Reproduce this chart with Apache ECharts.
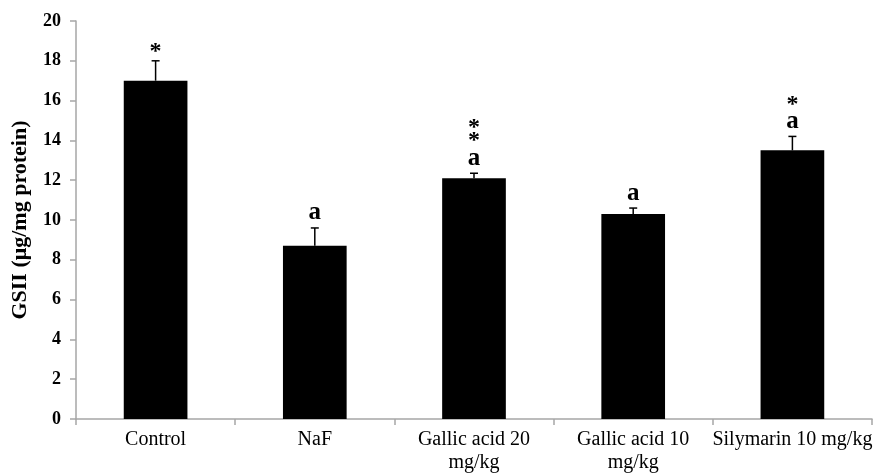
<!DOCTYPE html>
<html>
<head>
<meta charset="utf-8">
<script src="https://cdn.jsdelivr.net/npm/echarts@6/dist/echarts.min.js"></script>
<style>
html,body{margin:0;padding:0;background:#fff;}
#chart{width:877px;height:474px;}
</style>
</head>
<body>
<div id="chart"></div>
<script>
// ---- data ----
const categories = ['Control', 'NaF', 'Gallic acid 20\nmg/kg', 'Gallic acid 10\nmg/kg', 'Silymarin 10 mg/kg'];
const means = [17.0, 8.7, 12.1, 10.3, 13.5];
const errors = [1.0, 0.9, 0.25, 0.3, 0.7];
const annotations = [['*'], ['a'], ['*', '*', 'a'], ['a'], ['*', 'a']];
const yTicks = { min: 0, max: 20, interval: 2 };
const yTitle = 'GSII (μg/mg protein)';

const chart = echarts.init(document.getElementById('chart'), null, { renderer: 'canvas' });
const serif = '"Liberation Serif", "Times New Roman", serif';
const axisGray = '#a6a6a6';

const errData = means.map((m, i) => [i, m, errors[i]]);

chart.setOption({
  animation: false,
  backgroundColor: '#fff',
  grid: { left: 76, right: 5, top: 21, bottom: 55, containLabel: false, outerBoundsMode: 'none' },
  xAxis: {
    type: 'category',
    data: categories,
    axisLine: { lineStyle: { color: axisGray, width: 1.5 } },
    axisTick: { show: true, alignWithLabel: false, length: 6, lineStyle: { color: axisGray, width: 1.5 } },
    axisLabel: { color: '#000', fontFamily: serif, fontSize: 20, margin: 9, lineHeight: 23, interval: 0 },
    splitLine: { show: false }
  },
  yAxis: {
    type: 'value',
    min: yTicks.min, max: yTicks.max, interval: yTicks.interval,
    name: yTitle,
    nameLocation: 'middle',
    nameGap: 45,
    nameTextStyle: { color: '#000', fontFamily: serif, fontSize: 22, fontWeight: 'bold' },
    axisLine: { show: true, lineStyle: { color: axisGray, width: 1.5 } },
    axisTick: { show: true, length: 6, lineStyle: { color: axisGray, width: 1.5 } },
    axisLabel: { color: '#000', fontFamily: serif, fontSize: 18, fontWeight: 'bold', margin: 15 },
    splitLine: { show: false }
  },
  series: [
    {
      type: 'bar',
      data: means,
      barWidth: '40%',
      itemStyle: { color: '#000' },
      z: 2
    },
    {
      type: 'custom',
      data: errData,
      z: 3,
      renderItem: function (params, api) {
        const i = api.value(0);
        const m = api.value(1);
        const e = api.value(2);
        const base = api.coord([i, m]);
        const top = api.coord([i, m + e]);
        const x = base[0];
        const children = [
          { type: 'line', shape: { x1: x, y1: base[1], x2: x, y2: top[1] }, style: { stroke: '#000', lineWidth: 1.5 } },
          { type: 'line', shape: { x1: x - 4, y1: top[1], x2: x + 4, y2: top[1] }, style: { stroke: '#000', lineWidth: 1.5 } }
        ];
        const lines = annotations[params.dataIndex];
        let y = top[1] - 15;
        for (let k = lines.length - 1; k >= 0; k--) {
          const t = lines[k];
          const isStar = t === '*';
          children.push({
            type: 'text',
            style: {
              text: t, x: x, y: isStar ? y + 6 : y,
              align: 'center', verticalAlign: 'middle',
              font: 'bold ' + (isStar ? 24 : 25) + 'px ' + serif,
              fill: '#000'
            }
          });
          if (k > 0) {
            const above = lines[k - 1];
            y -= (t === 'a' && above === '*') ? 23 : 13;
          }
        }
        return { type: 'group', children: children };
      }
    }
  ]
});
</script>
</body>
</html>
